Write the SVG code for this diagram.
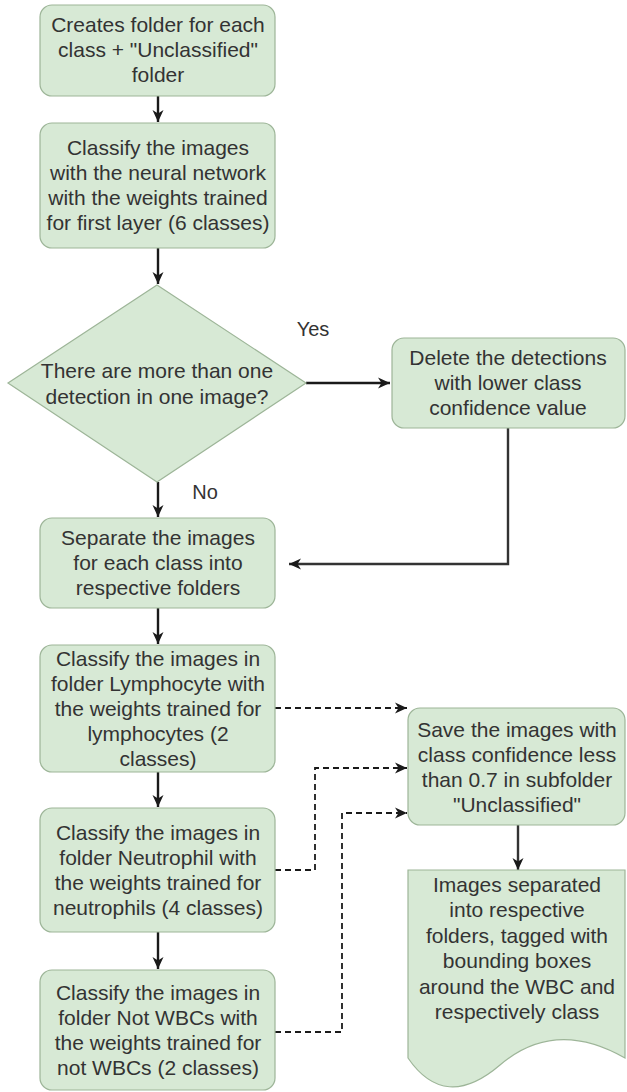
<svg xmlns="http://www.w3.org/2000/svg" width="627" height="1092" viewBox="0 0 627 1092">
<defs>
<marker id="arr" markerUnits="userSpaceOnUse" markerWidth="14" markerHeight="14" refX="12" refY="7" orient="auto">
<path d="M0,1.5 L12,7 L0,12.5 L3.5,7 z" fill="#1a1a1a"/>
</marker>
<style>
.box{fill:#d7e9d5;stroke:#9db598;stroke-width:1.2}
.t{font-family:"Liberation Sans",Arial,sans-serif;font-size:21px;fill:#333;text-anchor:middle}
.lbl{font-family:"Liberation Sans",Arial,sans-serif;font-size:20px;fill:#333;text-anchor:middle}
.c{fill:none;stroke:#1a1a1a;stroke-width:2.4}
.d{fill:none;stroke:#1a1a1a;stroke-width:1.8;stroke-dasharray:6,4}
</style>
</defs>
<rect width="627" height="1092" fill="#fff"/>

<g id="connectors">
<line class="c" x1="158" y1="96" x2="158" y2="122" marker-end="url(#arr)"/>
<line class="c" x1="158" y1="248" x2="158" y2="284" marker-end="url(#arr)"/>
<line class="c" x1="306" y1="383" x2="390" y2="383" marker-end="url(#arr)"/>
<polyline class="c" points="508,428 508,564 289,564" marker-end="url(#arr)" style="stroke:#333"/>
<line class="c" x1="158" y1="482" x2="158" y2="517" marker-end="url(#arr)"/>
<line class="c" x1="158" y1="608" x2="158" y2="644" marker-end="url(#arr)"/>
<line class="c" x1="158" y1="772" x2="158" y2="807" marker-end="url(#arr)"/>
<line class="c" x1="158" y1="932" x2="158" y2="969" marker-end="url(#arr)"/>
<polyline class="d" points="275,708 407,708" marker-end="url(#arr)"/>
<polyline class="d" points="275,870 315,870 315,768 407,768" marker-end="url(#arr)"/>
<polyline class="d" points="275,1032 342,1032 342,813 407,813" marker-end="url(#arr)"/>
<line class="c" x1="518" y1="825" x2="518" y2="870" marker-end="url(#arr)" style="stroke:#333"/>
<text class="lbl" x="313" y="336">Yes</text>
<text class="lbl" x="205" y="499">No</text>
</g>

<g id="n1">
<rect class="box" x="40" y="5" width="235" height="91" rx="12"/>
<text class="t" x="158" y="32">Creates folder for each</text>
<text class="t" x="158" y="57">class + "Unclassified"</text>
<text class="t" x="158" y="82">folder</text>
</g>

<g id="n2">
<rect class="box" x="40" y="123" width="235" height="125" rx="12"/>
<text class="t" x="158" y="155">Classify the images</text>
<text class="t" x="158" y="180">with the neural network</text>
<text class="t" x="158" y="205">with the weights trained</text>
<text class="t" x="158" y="230">for first layer (6 classes)</text>
</g>

<g id="n3">
<polygon class="box" points="157,285 306,383 157,482 8,383"/>
<text class="t" x="157" y="378">There are more than one</text>
<text class="t" x="157" y="404">detection in one image?</text>
</g>

<g id="n4">
<rect class="box" x="392" y="338" width="233" height="90" rx="12"/>
<text class="t" x="508" y="365">Delete the detections</text>
<text class="t" x="508" y="390">with lower class</text>
<text class="t" x="508" y="415">confidence value</text>
</g>

<g id="n5">
<rect class="box" x="40" y="518" width="235" height="90" rx="12"/>
<text class="t" x="158" y="545">Separate the images</text>
<text class="t" x="158" y="570">for each class into</text>
<text class="t" x="158" y="595">respective folders</text>
</g>

<g id="n6">
<rect class="box" x="40" y="645" width="235" height="127" rx="12"/>
<text class="t" x="158" y="666">Classify the images in</text>
<text class="t" x="158" y="691">folder Lymphocyte with</text>
<text class="t" x="158" y="716">the weights trained for</text>
<text class="t" x="158" y="741">lymphocytes (2</text>
<text class="t" x="158" y="766">classes)</text>
</g>

<g id="n7">
<rect class="box" x="40" y="808" width="235" height="124" rx="12"/>
<text class="t" x="158" y="840">Classify the images in</text>
<text class="t" x="158" y="865">folder Neutrophil with</text>
<text class="t" x="158" y="890">the weights trained for</text>
<text class="t" x="158" y="915">neutrophils (4 classes)</text>
</g>

<g id="n8">
<rect class="box" x="40" y="970" width="235" height="120" rx="12"/>
<text class="t" x="158" y="1000">Classify the images in</text>
<text class="t" x="158" y="1025">folder Not WBCs with</text>
<text class="t" x="158" y="1050">the weights trained for</text>
<text class="t" x="158" y="1075">not WBCs (2 classes)</text>
</g>

<g id="n9">
<rect class="box" x="408" y="708" width="217" height="117" rx="12"/>
<text class="t" x="517" y="737">Save the images with</text>
<text class="t" x="517" y="762">class confidence less</text>
<text class="t" x="517" y="787">than 0.7 in subfolder</text>
<text class="t" x="517" y="812">"Unclassified"</text>
</g>

<g id="n10">
<path class="box" d="M408,870 H625 V1058 Q555,1018 500,1065 Q445,1112 408,1058 Z"/>
<text class="t" x="517" y="892">Images separated</text>
<text class="t" x="517" y="917">into respective</text>
<text class="t" x="517" y="943">folders, tagged with</text>
<text class="t" x="517" y="968">bounding boxes</text>
<text class="t" x="517" y="994">around the WBC and</text>
<text class="t" x="517" y="1019">respectively class</text>
</g>
</svg>
